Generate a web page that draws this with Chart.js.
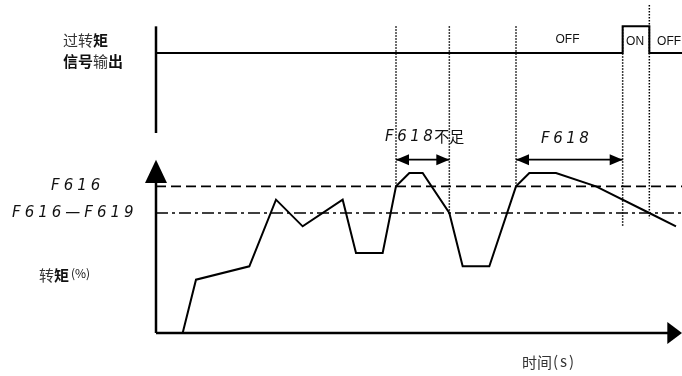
<!DOCTYPE html>
<html>
<head>
<meta charset="utf-8">
<script src="https://cdn.jsdelivr.net/npm/chart.js@4/dist/chart.umd.min.js"></script>
<style>
  html, body { margin: 0; padding: 0; background: #fff; }
  #wrap { width: 682px; height: 376px; }
</style>
</head>
<body>
<div id="wrap"><canvas id="c" width="682" height="376"></canvas></div>
<script>
// ---- data (chart units: time grid, torque grid) ----
const timeValues   = [2, 3, 7, 9, 11, 14, 15, 17, 18, 19, 20, 22, 23, 25, 27, 28, 30, 33, 37, 39];
const torqueValues = [0, 4, 5, 10, 8, 10, 6, 6, 11, 12, 12, 9, 5, 5, 11, 12, 12, 11, 9, 8];
const overTorqueLevel = 11;   // F616
const releaseLevel = 9;       // F616-F619
const signalTimes  = [0, 35, 35, 37, 37, 39.45];
const signalStates = [0, 0, 1, 1, 0, 0];
const markerTimes  = [18, 22, 27, 35, 37];
const markerBottoms = [11, 9, 11, 8, 8.6];
const intervalStarts = [18, 27];
const intervalEnds   = [22, 35];
const intervalLabels = ['F618不足', 'F618'];
const levelLabels = ['F616', 'F616\u2014F619'];
const signalLabels = ['OFF', 'ON', 'OFF'];
const signalLabelTimes = [30.86, 35.93, 38.48];

const X_MAX = 39.45, Y_MAX = 24.975;
const SIG_BASE = 21, SIG_HIGH = 2;
const MARK_TOP = 23, MARK_TOP_LAST = 24.6;
const ARROW_Y = 13;

const pts = (xs, ys) => xs.map((x, i) => ({x, y: ys[i]}));
const line = (data, extra) => Object.assign({
  data, borderColor: '#000', borderWidth: 2, pointRadius: 0, tension: 0, fill: false, clip: false
}, extra || {});

const datasets = [
  line(pts(timeValues, torqueValues), {borderWidth: 2}),
  line([{x: 0, y: overTorqueLevel}, {x: X_MAX, y: overTorqueLevel}], {borderWidth: 1.6, borderDash: [10, 5]}),
  line([{x: 0, y: releaseLevel}, {x: X_MAX, y: releaseLevel}], {borderWidth: 1.6, borderDash: [12, 4, 3, 4]}),
  line(pts(signalTimes, signalStates.map(s => SIG_BASE + s * SIG_HIGH)), {borderWidth: 2}),
  line([{x: 0, y: 15}, {x: 0, y: MARK_TOP}], {borderWidth: 2.5}),
  line([{x: 0, y: 0}, {x: 0, y: 11.5}], {borderWidth: 2.5}),
  line([{x: 0, y: 0}, {x: 38.6, y: 0}], {borderWidth: 2.5}),
];
markerTimes.forEach((t, i) => {
  const top = i === markerTimes.length - 1 ? MARK_TOP_LAST : MARK_TOP;
  datasets.push(line([{x: t, y: top}, {x: t, y: markerBottoms[i]}], {borderWidth: 1.5, borderDash: [1.5, 1.5]}));
});
intervalStarts.forEach((s, i) => {
  datasets.push(line([{x: s, y: ARROW_Y}, {x: intervalEnds[i], y: ARROW_Y}], {borderWidth: 1.6}));
});

const decor = {
  id: 'decor',
  afterDatasetsDraw(chart) {
    const ctx = chart.ctx;
    const xs = chart.scales.x, ys = chart.scales.y;
    const X = v => xs.getPixelForValue(v), Y = v => ys.getPixelForValue(v);
    ctx.save();
    ctx.fillStyle = '#000';
    const tri = (a, b, c) => { ctx.beginPath(); ctx.moveTo(a[0], a[1]); ctx.lineTo(b[0], b[1]); ctx.lineTo(c[0], c[1]); ctx.closePath(); ctx.fill(); };
    // y-axis arrowhead
    const x0 = X(0);
    tri([x0, Y(13)], [x0 - 11, Y(11.25)], [x0 + 11, Y(11.25)]);
    // x-axis arrowhead
    const y0 = Y(0);
    tri([X(X_MAX), y0], [X(38.35), y0 - 11], [X(38.35), y0 + 11]);
    // interval double arrows
    intervalStarts.forEach((s, i) => {
      const a = X(s), b = X(intervalEnds[i]), y = Y(ARROW_Y);
      tri([a, y], [a + 13, y - 5.5], [a + 13, y + 5.5]);
      tri([b, y], [b - 13, y - 5.5], [b - 13, y + 5.5]);
    });
    // texts
    ctx.textBaseline = 'middle';
    ctx.fillStyle = '#111';
    const SEG_FONT = 'italic 300 15px "DejaVu Sans"';
    const seg = (txt, x, y, spacing) => {
      ctx.font = SEG_FONT;
      ctx.textAlign = 'left';
      try { ctx.letterSpacing = (spacing || 3.5) + 'px'; } catch (e) {}
      ctx.fillText(txt, x, y);
      const w = ctx.measureText(txt).width;
      try { ctx.letterSpacing = '0px'; } catch (e) {}
      return w;
    };
    // level labels
    seg(levelLabels[0], 51, 186, 4);
    seg(levelLabels[1], 12, 213, 4);
    // interval labels
    const w = seg('F618', 385, 137);
    ctx.font = '15px "Noto Sans CJK SC"';
    ctx.textAlign = 'left';
    ctx.fillText('不足', 385 + w - 2, 136);
    seg(intervalLabels[1], 541, 139);
    // signal labels
    ctx.font = '12px "Liberation Sans"';
    ctx.textAlign = 'center';
    signalLabels.forEach((l, i) => {
      const yy = i === 0 ? 40 : 42;
      ctx.fillText(l, X(signalLabelTimes[i]), yy);
    });
    // left titles
    ctx.textAlign = 'left';
    const put = (txt, x, y, bold, size) => {
      ctx.font = (bold ? 'bold ' : '') + (size || 15) + 'px "Noto Sans CJK SC"';
      ctx.fillStyle = bold ? '#111' : '#333';
      ctx.fillText(txt, x, y);
      return x + ctx.measureText(txt).width;
    };
    let cx = put('过转', 63, 40, false);
    put('矩', cx, 40, true);
    cx = put('信号', 63, 61, true);
    cx = put('输', cx, 61, false);
    put('出', cx, 61, true);
    // torque axis title
    cx = put('转', 39, 275, false);
    cx = put('矩', cx, 275, true);
    ctx.font = '12px "Noto Sans CJK SC"';
    ctx.fillStyle = '#111';
    ctx.fillText('(%)', cx + 2, 273);
    // time axis title
    cx = put('时间', 522, 362, false);
    ctx.font = '15px "Noto Sans CJK SC"';
    try { ctx.letterSpacing = '2px'; } catch (e) {}
    ctx.fillText('(s)', cx + 1, 361);
    try { ctx.letterSpacing = '0px'; } catch (e) {}
    ctx.restore();
  }
};

new Chart(document.getElementById('c'), {
  type: 'line',
  data: { datasets },
  options: {
    responsive: false,
    devicePixelRatio: 1,
    animation: false,
    layout: { padding: { left: 156, right: 0, top: 0, bottom: 43 } },
    plugins: { legend: { display: false }, tooltip: { enabled: false } },
    scales: {
      x: { type: 'linear', min: 0, max: X_MAX, display: false },
      y: { type: 'linear', min: 0, max: Y_MAX, display: false }
    }
  },
  plugins: [decor]
});
</script>
</body>
</html>
